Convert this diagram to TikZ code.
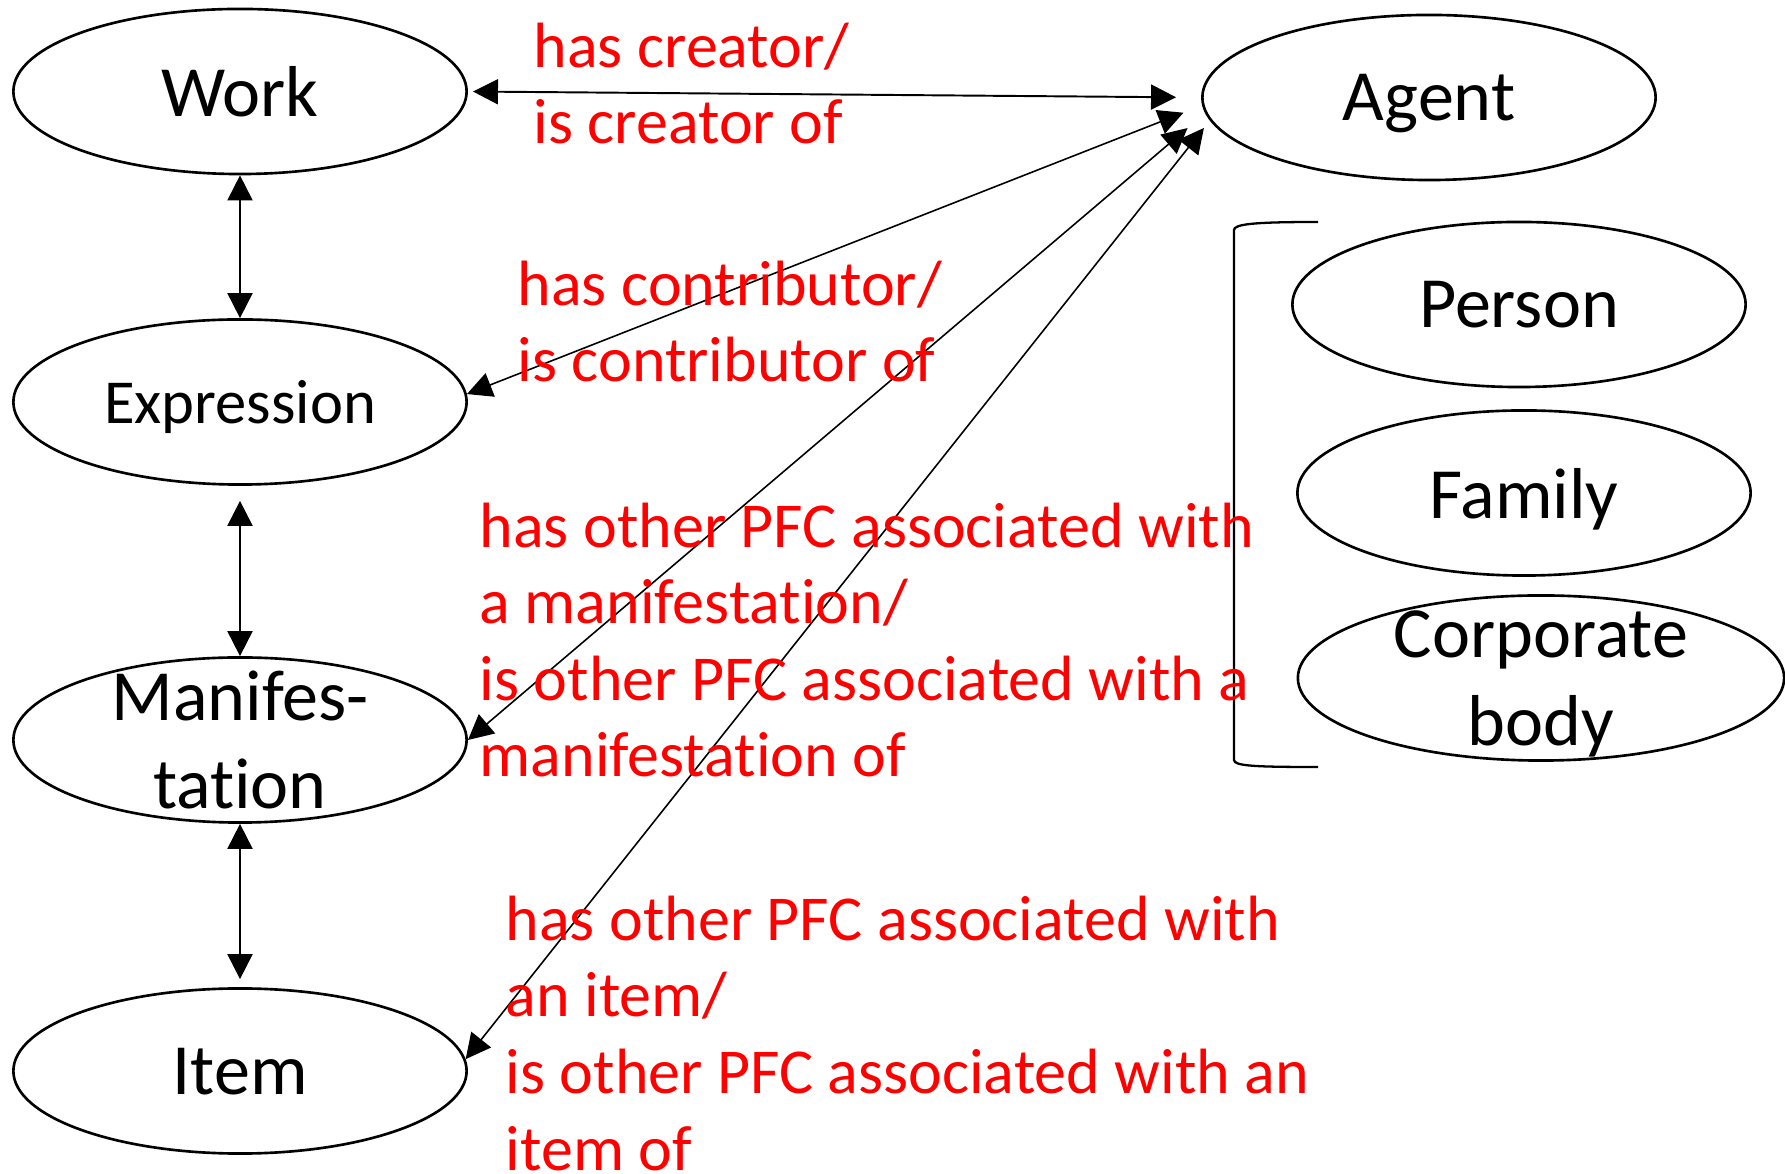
\documentclass[tikz,border=0pt]{standalone}
\usepackage{fontspec}
\setmainfont[Ligatures={NoCommon,NoContextual}]{Carlito}
\usetikzlibrary{arrows.meta,shapes.geometric}
\begin{document}
\begin{tikzpicture}[x=0.01cm,y=-0.01cm,
  entity/.style={draw, ellipse, line width=0.75pt, inner sep=0pt,
                 minimum width=4.53cm, minimum height=1.65cm},
  etext/.style={font=\fontsize{20.5}{25}\selectfont, align=center,
                inner sep=0pt, text depth=0pt},
  rel/.style={text=red, font=\fontsize{18.2}{21.8}\selectfont, align=left,
              inner sep=0pt, anchor=base west},
  dual/.style={{Triangle[length=0.25cm,width=0.25cm]}-{Triangle[length=0.25cm,width=0.25cm]},
               line width=0.45pt},
]
\useasboundingbox (0,0) rectangle (1785,1174);

% entities of the left column
\node[entity] (work)  at (240,91.5) {};
\node[entity] (expr)  at (240,402)  {};
\node[entity] (manif) at (240,740)  {};
\node[entity] (item)  at (240,1071) {};
\node[etext] (work-t)  at (work)  {Work};
\node[etext, font=\fontsize{17.8}{22}\selectfont] (expr-t) at (expr) {Expression};
\node[etext] (manif-t) at (manif) {Manifes-\\tation};
\node[etext] (item-t)  at (item)  {Item};

% agent and its kinds
\node[entity] (agent)  at (1429,97.5) {};
\node[entity] (person) at (1519,304.5) {};
\node[entity] (family) at (1524,493) {};
\node[entity, minimum width=4.86cm] (corp) at (1541,678) {};
\node[etext] (agent-t)  at (agent)  {Agent};
\node[etext] (person-t) at (person) {Person};
\node[etext] (family-t) at (family) {Family};
\node[etext] (corp-t)   at (corp)   {Corporate\\body};

% bracket grouping the kinds of agent
\draw[line width=0.65pt] (1318,222) .. controls (1255,222) and (1234,224) .. (1234,230)
  -- (1234,760) .. controls (1234,766) and (1255,767) .. (1318,767);

% links down the left column
\draw[dual, line width=0.55pt] (work) -- (expr);
\draw[dual, line width=0.55pt, shorten <=0.15cm] (expr) -- (manif);
\draw[dual, line width=0.55pt, shorten >=0.08cm] (manif) -- (item);

% links to the agent
\draw[dual, line width=0.55pt, shorten <=0.05cm, shorten >=0.25cm] (work.east) -- (agent.west);
\draw[dual, shorten >=0.20cm] (expr.2) -- (agent.182);
\draw[dual, shorten >=0.23cm] (manif.east) -- (agent.184.6);
\draw[dual, shorten >=0.095cm] (item.3) -- (agent.186.3);

% relationship labels (anchored at the baseline of their last line)
\node[rel] (l-creator) at (533,144) {has creator/\\is creator of};
\node[rel] (l-contrib) at (517,382) {has contributor/\\is contributor of};
\node[rel] (l-manif) at (479,777) {has other PFC associated with\\a manifestation/\\is other PFC associated with a\\manifestation of};
\node[rel] (l-item) at (505,1170) {has other PFC associated with\\an item/\\is other PFC associated with an\\item of};
\end{tikzpicture}
\end{document}
